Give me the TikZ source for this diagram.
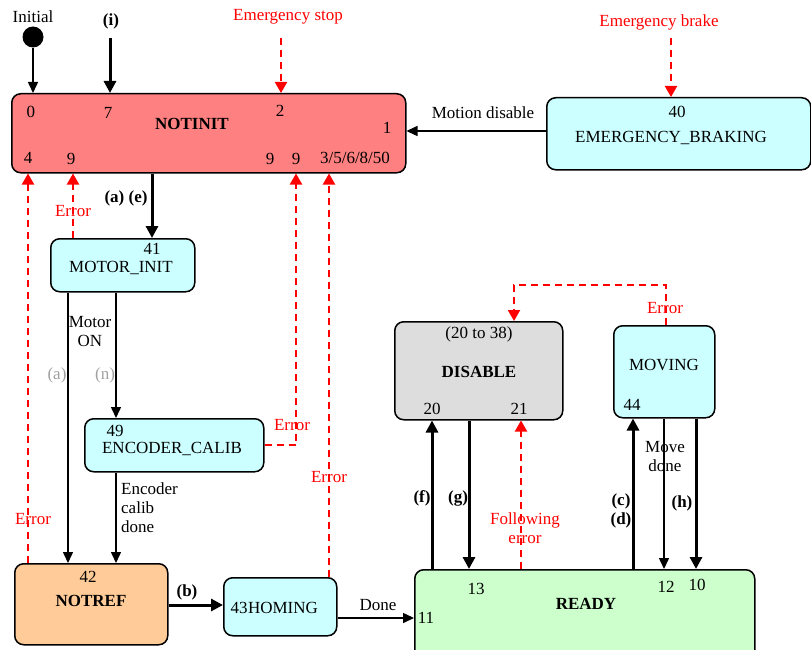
\documentclass[tikz,border=0pt]{standalone}
\usepackage{fontspec}
\setmainfont{Liberation Serif}
\usetikzlibrary{arrows.meta}
\definecolor{cRed}{HTML}{FF8080}
\definecolor{cCyan}{HTML}{CCFFFF}
\definecolor{cOrange}{HTML}{FFCC99}
\definecolor{cGreen}{HTML}{CCFFCC}
\definecolor{cGray}{HTML}{DDDDDD}
\definecolor{cErr}{HTML}{FF0000}
\definecolor{cLight}{HTML}{A0A0A0}
\begin{document}
\begin{tikzpicture}[x=1pt,y=-1pt,
  font=\fontsize{17}{19}\selectfont,
  box/.style={draw=black, line width=1.5pt, rounded corners=9pt, inner sep=0pt, anchor=north west},
  lbl/.style={inner sep=0pt},
  bflbl/.style={inner sep=0pt, font=\fontsize{17}{19}\selectfont\bfseries},
  errtxt/.style={inner sep=0pt, text=cErr, align=center},
  graytxt/.style={inner sep=0pt, text=cLight},
  thinarr/.style={draw=black, line width=1.5pt, -{Triangle[length=11pt,width=10pt]}},
  thickarr/.style={draw=black, line width=3pt, -{Triangle[length=12pt,width=12pt]}},
  errarr/.style={draw=cErr, line width=2pt, dash pattern=on 7pt off 5pt, -{Triangle[length=11pt,width=12pt]}},
]
\useasboundingbox (0,0) rectangle (811,650);

% ---------- boxes ----------
\node[box, fill=cRed, minimum width=394pt, minimum height=79pt] (notinit) at (11,93) {};
\node[box, fill=cCyan, minimum width=264pt, minimum height=72pt] (ebrake) at (546,97) {};
\node[box, fill=cCyan, minimum width=144pt, minimum height=53pt] (motorinit) at (50,238) {};
\node[box, fill=cCyan, minimum width=179pt, minimum height=53pt] (enccal) at (84,418) {};
\node[box, fill=cOrange, minimum width=153pt, minimum height=81pt] (notref) at (14,563) {};
\node[box, fill=cCyan, minimum width=113pt, minimum height=58pt] (homing) at (223,577) {};
\node[box, fill=cGreen, minimum width=340pt, minimum height=92pt] (ready) at (414,569) {};
\node[box, fill=cGray, minimum width=168pt, minimum height=98pt] (disable) at (394,321) {};
\node[box, fill=cCyan, minimum width=101pt, minimum height=92pt] (moving) at (613,325) {};

% ---------- texts in boxes ----------
\node[lbl] (t0) at (31,112) {0};
\node[lbl] (t7) at (108,113) {7};
\node[bflbl] (tnotinit) at (192,124) {NOTINIT};
\node[lbl] (t2) at (280,111) {2};
\node[lbl] (t1) at (387,128) {1};
\node[lbl] (t4) at (28,158) {4};
\node[lbl] (t9a) at (71,159) {9};
\node[lbl] (t9b) at (270,159) {9};
\node[lbl] (t9c) at (296,159) {9};
\node[lbl] (t3) at (355,158) {3/5/6/8/50};

\node[lbl] (t40) at (677,112) {40};
\node[lbl] (teb) at (671,138) {EMERGENCY\_BRAKING};

\node[lbl] (t41) at (152,249) {41};
\node[lbl] (tmi) at (121,268) {MOTOR\_INIT};

\node[lbl] (t49) at (115,431) {49};
\node[lbl] (tec) at (172,449) {ENCODER\_CALIB};

\node[lbl] (t42) at (88,577) {42};
\node[bflbl] (tnotref) at (91,601) {NOTREF};

\node[lbl] (t43) at (239,608) {43};
\node[lbl] (thom) at (283,608) {HOMING};

\node[lbl] (t13) at (476,589) {13};
\node[bflbl] (tready) at (586,604) {READY};
\node[lbl] (t12) at (666,587) {12};
\node[lbl] (t10) at (697,585) {10};
\node[lbl] (t11) at (426,618) {11};

\node[lbl] (t2038) at (479,334) {(20 to 38)};
\node[bflbl] (tdis) at (479,372) {DISABLE};
\node[lbl] (t20) at (432,409) {20};
\node[lbl] (t21) at (519,409) {21};

\node[lbl] (tmov) at (664,365) {MOVING};
\node[lbl] (t44) at (632,405) {44};

% ---------- outside labels ----------
\node[lbl] (tinit) at (33,17) {Initial};
\node[bflbl] (ti) at (111,21) {(i)};
\node[errtxt] (tes) at (288,17) {Emergency stop};
\node[errtxt] (teb2) at (659,22) {Emergency brake};
\node[lbl] (tmd) at (483,113) {Motion disable};
\node[bflbl] (tae) at (126,198) {(a) (e)};
\node[errtxt] (terr1) at (73,211) {Error};
\node[lbl, align=center] (tmon) at (90,332) {Motor\\ON};
\node[graytxt] (tga) at (57,375) {(a)};
\node[graytxt] (tgn) at (105,375) {(n)};
\node[errtxt] (terr2) at (292,425) {Error};
\node[errtxt] (terr3) at (329,477) {Error};
\node[errtxt] (terr4) at (33,519) {Error};
\node[lbl, align=left, anchor=west] (tecd) at (121,508) {Encoder\\calib\\done};
\node[bflbl] (tb) at (187,592) {(b)};
\node[lbl] (tdone) at (378,605) {Done};
\node[errtxt] (terr5) at (665,308) {Error};
\node[bflbl] (tf) at (422,498) {(f)};
\node[bflbl] (tg) at (458,498) {(g)};
\node[errtxt] (tfe) at (525,528) {Following\\error};
\node[bflbl, align=center] (tcd) at (621,511) {(c)\\(d)};
\node[lbl, align=center] (tmvd) at (665,457) {Move\\done};
\node[bflbl] (th) at (682,503) {(h)};

% ---------- helper coordinates ----------
\node[circle, fill=black, minimum size=21pt, inner sep=0pt] (init) at (33,37) {};
\coordinate (iStart) at (110,38);
\coordinate (esStart) at (281,38);
\coordinate (ebStart) at (671,38);
\coordinate (c28) at (28,0);
\coordinate (c68) at (68,0);
\coordinate (c73) at (73,0);
\coordinate (c116) at (116,0);
\coordinate (c152) at (152,0);
\coordinate (c296) at (296,0);
\coordinate (c329) at (329,0);
\coordinate (c432) at (432,0);
\coordinate (c469) at (469,0);
\coordinate (c514) at (514,0);
\coordinate (c521) at (521,0);
\coordinate (c633) at (633,0);
\coordinate (c664) at (664,0);
\coordinate (c666) at (666,0);
\coordinate (c696) at (696,0);
\coordinate (r131) at (0,131);
\coordinate (r605) at (0,605);
\coordinate (r618) at (0,618);
\coordinate (errTop) at (590,285);

% ---------- connectors ----------
\draw[thinarr] (init) -- (notinit.north -| init);
\draw[thickarr] (iStart) -- (notinit.north -| iStart);
\draw[errarr] (esStart) -- (notinit.north -| esStart);
\draw[errarr] (ebStart) -- (ebrake.north -| ebStart);
\draw[thinarr] (ebrake.west |- r131) -- (notinit.east |- r131);

\draw[thickarr] (notinit.south -| c152) -- (motorinit.north -| c152);
\draw[errarr] (motorinit.north -| c73) -- (notinit.south -| c73);
\draw[thinarr] (motorinit.south -| c68) -- (notref.north -| c68);
\draw[thinarr] (motorinit.south -| c116) -- (enccal.north -| c116);
\draw[errarr] (enccal.east) -| (notinit.south -| c296);
\draw[thinarr] (enccal.south -| c116) -- (notref.north -| c116);
\draw[errarr] (notref.north -| c28) -- (notinit.south -| c28);
\draw[thickarr] (notref.east |- r605) -- (homing.west |- r605);
\draw[errarr] (homing.north -| c329) -- (notinit.south -| c329);
\draw[thinarr] (homing.east |- r618) -- (ready.west |- r618);

\draw[thickarr] (ready.north -| c432) -- (disable.south -| c432);
\draw[thickarr] (disable.south -| c469) -- (ready.north -| c469);
\draw[errarr] (ready.north -| c521) -- (disable.south -| c521);
\draw[thickarr] (ready.north -| c633) -- (moving.south -| c633);
\draw[thinarr] (moving.south -| c664) -- (ready.north -| c664);
\draw[thickarr] (moving.south -| c696) -- (ready.north -| c696);
\draw[errarr] (moving.north -| c666) |- (errTop) -| (disable.north -| c514);

\end{tikzpicture}
\end{document}
